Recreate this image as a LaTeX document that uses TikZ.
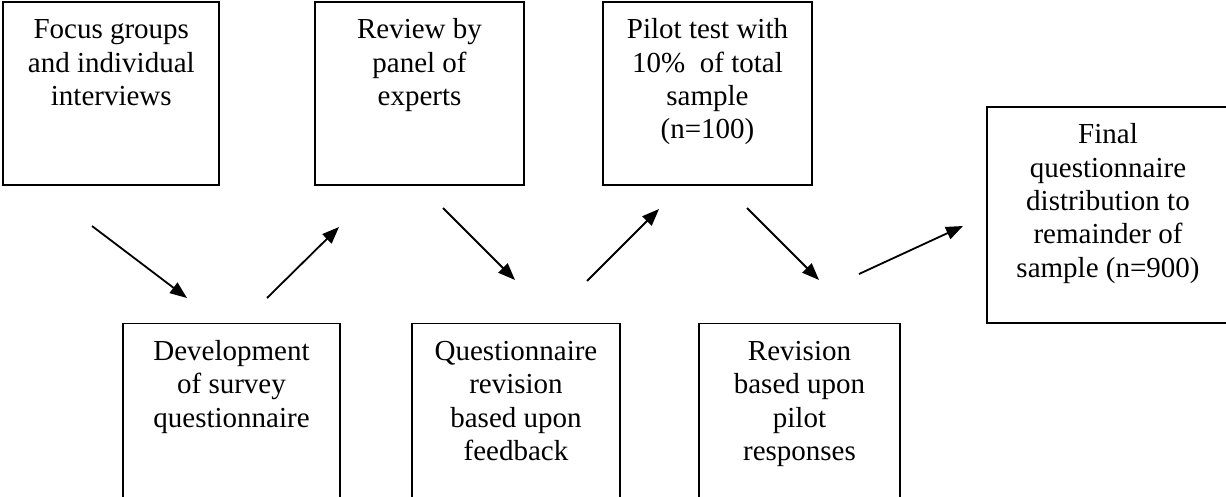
\documentclass[tikz,border=0pt]{standalone}
\usepackage{fontspec}
\setmainfont{Liberation Serif}
\usetikzlibrary{arrows.meta}
\tikzset{
  box/.style={draw, line width=1.8pt, inner sep=0pt, anchor=north,
    font=\fontsize{29}{33.3}\selectfont},
  flow/.style={line width=1.8pt, -{Triangle[length=17pt,width=13pt]}}
}
\newcommand{\boxtext}[3]{\parbox[t][#2][t]{#1}{\centering\rule{0pt}{37pt}#3}}
\begin{document}
\begin{tikzpicture}[x=1pt,y=-1pt]
\useasboundingbox (0,0) rectangle (1226,497);
% top row
\node[box] (focus)  at (111.3,1) {\boxtext{216pt}{183pt}{Focus groups\\and individual\\interviews}};
\node[box] (review) at (419.5,1) {\boxtext{209pt}{183pt}{Review by\\panel of\\experts}};
\node[box] (pilot)  at (707.5,1) {\boxtext{209pt}{183pt}{Pilot test with\\10\%~ of total\\sample\\(n=100)}};
\node[box] (final)  at (1108,106) {\boxtext{242pt}{216pt}{Final\\questionnaire\\distribution to\\remainder of\\sample (n=900)}};
% bottom row
\node[box] (devel)  at (231.5,322.5) {\boxtext{217pt}{200pt}{Development\\of survey\\questionnaire}};
\node[box] (qrev)   at (516,322.5) {\boxtext{208pt}{200pt}{Questionnaire\\revision\\based upon\\feedback}};
\node[box] (rev)    at (799.5,322.5) {\boxtext{201pt}{200pt}{Revision\\based upon\\pilot\\responses}};
% arrow end points
\coordinate (a1s) at (92,226);  \coordinate (a1e) at (187,298);
\coordinate (a2s) at (267,298); \coordinate (a2e) at (339,227);
\coordinate (a3s) at (443,208); \coordinate (a3e) at (515,280);
\coordinate (a4s) at (587,281); \coordinate (a4e) at (659,209);
\coordinate (a5s) at (747,208); \coordinate (a5e) at (819,280);
\coordinate (a6s) at (859,274); \coordinate (a6e) at (963,226);
\draw[flow] (a1s) -- (a1e);
\draw[flow] (a2s) -- (a2e);
\draw[flow] (a3s) -- (a3e);
\draw[flow] (a4s) -- (a4e);
\draw[flow] (a5s) -- (a5e);
\draw[flow] (a6s) -- (a6e);
\end{tikzpicture}
\end{document}
